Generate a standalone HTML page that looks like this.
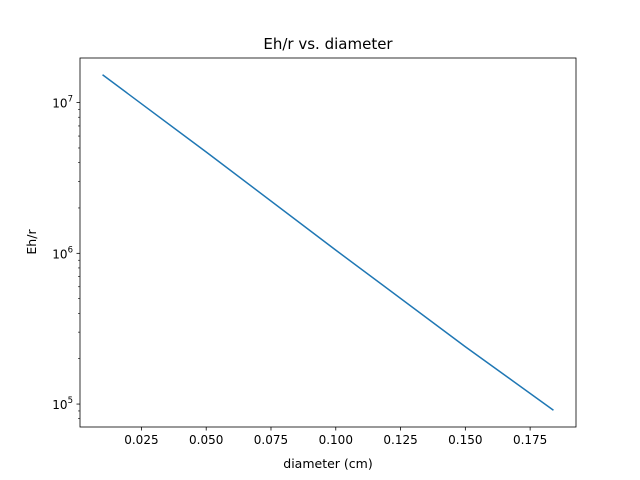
<!DOCTYPE html>
<html><head><meta charset="utf-8"><style>body{margin:0;background:#fff}svg{display:block}text{font-family:"DejaVu Sans","Liberation Sans",sans-serif;fill:#000}</style></head>
<body>
<svg id="chart" width="640" height="480" xmlns="http://www.w3.org/2000/svg">
<rect x="0" y="0" width="640" height="480" fill="#fff"/>
<text x="328" y="49" font-size="15" text-anchor="middle">Eh/r vs. diameter</text>
<text x="328" y="468" font-size="12.5" text-anchor="middle">diameter (cm)</text>
<text x="36" y="242" font-size="12.5" text-anchor="middle" transform="rotate(-90 36 242)">Eh/r</text>
<g id="plot"></g>
</svg>
<script>
const xValues = [0.01, 0.05, 0.1, 0.15, 0.184];
const yValues = [1.53e7, 4.7e6, 1.05e6, 2.4e5, 9.1e4];
const xTicks = [0.025, 0.05, 0.075, 0.1, 0.125, 0.15, 0.175];
const xTickLabels = ["0.025","0.050","0.075","0.100","0.125","0.150","0.175"];
const yTickExps = [5, 6, 7];

const L=80,R=576,T=58,B=427;
const ns="http://www.w3.org/2000/svg";
const g=document.getElementById('plot');
let xmin=Math.min(...xValues),xmax=Math.max(...xValues),xm=(xmax-xmin)*0.05;xmin-=xm;xmax+=xm;
let lmin=Math.log10(Math.min(...yValues)),lmax=Math.log10(Math.max(...yValues)),lm=(lmax-lmin)*0.05;lmin-=lm;lmax+=lm;
const X=v=>L+(v-xmin)/(xmax-xmin)*(R-L);
const Y=v=>B-(Math.log10(v)-lmin)/(lmax-lmin)*(B-T);
function mk(t,a){const e=document.createElementNS(ns,t);for(const k in a)e.setAttribute(k,a[k]);g.appendChild(e);return e;}
xTicks.forEach((t,i)=>{const x=X(t);
 const l=mk('line',{x1:x,x2:x,y1:B,y2:B+3.5,stroke:'#000','stroke-width':0.8});
 
 
 const tx=mk('text',{x:x,y:B+17,'font-size':12,'text-anchor':'middle'});tx.textContent=xTickLabels[i];
 
 
});
for(let e=Math.floor(lmin);e<=Math.ceil(lmax);e++){for(let m=2;m<10;m++){const v=m*Math.pow(10,e);const lv=Math.log10(v);if(lv<lmin||lv>lmax)continue;const y=Y(v);
 const l=mk('line',{x1:L-2,x2:L,y1:y,y2:y,stroke:'#000','stroke-width':0.6});
 
 }}
yTickExps.forEach(e=>{const y=Y(Math.pow(10,e));
 const l=mk('line',{x1:L-3.5,x2:L,y1:y,y2:y,stroke:'#000','stroke-width':0.8});
 
 
 const tx=mk('text',{x:L-7,y:y+5,'font-size':12,'text-anchor':'end'});
 tx.innerHTML='10<tspan dy="-6" font-size="8.5">'+e+'</tspan>';
 
 
});
const p=mk('polyline',{points:xValues.map((v,i)=>X(v)+','+Y(yValues[i])).join(' '),fill:'none',stroke:'#1f77b4','stroke-width':1.5});


const f=mk('rect',{x:L,y:T,width:R-L,height:B-T,fill:'none',stroke:'#000','stroke-width':0.8});


</script>
</body></html>
